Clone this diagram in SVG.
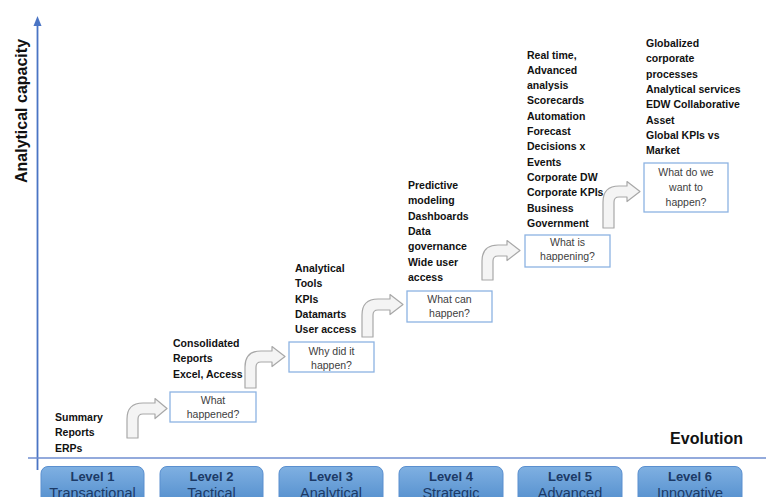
<svg xmlns="http://www.w3.org/2000/svg" width="766" height="497" viewBox="0 0 766 497">
<defs>
<linearGradient id="lvl" x1="0" y1="0" x2="0" y2="1">
<stop offset="0" stop-color="#7fb0e2"/>
<stop offset="1" stop-color="#4f8bcb"/>
</linearGradient>
<style>
.axis{stroke:#4a74c4;stroke-width:1.8;fill:none}
.note{font-family:"Liberation Sans",Arial,sans-serif;font-weight:bold;font-size:10.5px;fill:#111}
.q rect{fill:#fff;stroke:#8db3e2;stroke-width:1.3}
.q text{font-family:"Liberation Sans",Arial,sans-serif;font-size:10.5px;fill:#404040;text-anchor:middle}
.bend{fill:#f4f4f4;stroke:#a8a8a8;stroke-width:1.2;stroke-linejoin:round}
.lv rect{fill:url(#lvl);stroke:#5a8fcf;stroke-width:1}
.lv text{font-family:"Liberation Sans",Arial,sans-serif;fill:#1c3a66;text-anchor:middle}
.lv .t{font-weight:bold;font-size:13px}
.lv .s{font-size:14.5px}
.lbl{font-family:"Liberation Sans",Arial,sans-serif;font-weight:bold;font-size:16px;fill:#111}
</style>
</defs>
<rect width="766" height="497" fill="#fff"/>

<g id="axes">
<line class="axis" x1="37.5" y1="24" x2="37.5" y2="470"/>
<polygon points="37.5,16 33.5,26 41.5,26" fill="#4a74c4"/>
<line class="axis" x1="28" y1="458" x2="766" y2="458" style="stroke:#6f8ed0;stroke-width:1.5"/>
<text class="lbl" text-anchor="middle" transform="translate(26.5,111) rotate(-90)">Analytical capacity</text>
<text class="lbl" x="743" y="444" text-anchor="end">Evolution</text>
</g>

<g id="connectors">
<path class="bend" d="M127,438 L127,419 Q127,403 143,403 L155,403 L155,398.5 L167,408.5 L155,418.5 L155,414 L143,414 Q138,414 138,419 L138,438 Z"/>
<path class="bend" d="M245,388 L245,367 Q245,351 261,351 L272,351 L272,346.5 L285,356.5 L272,366.5 L272,362 L261,362 Q256,362 256,367 L256,388 Z"/>
<path class="bend" d="M362,337 L362,315 Q362,299 378,299 L390,299 L390,294.5 L403,304.5 L390,314.5 L390,310 L378,310 Q373,310 373,315 L373,337 Z"/>
<path class="bend" d="M482,280 L482,261 Q482,245 498,245 L507,245 L507,240.5 L520,250.5 L507,260.5 L507,256 L498,256 Q493,256 493,261 L493,280 Z"/>
<path class="bend" d="M603,228 L603,202 Q603,186 619,186 L627,186 L627,181.5 L640,191.5 L627,201.5 L627,197 L619,197 Q614,197 614,202 L614,228 Z"/>
</g>

<g id="notes1"><text class="note" x="55" y="421"><tspan x="55">Summary</tspan><tspan x="55" dy="15.3">Reports</tspan><tspan x="55" dy="15.3">ERPs</tspan></text></g>
<g id="notes2"><text class="note" x="173" y="347"><tspan x="173">Consolidated</tspan><tspan x="173" dy="15.3">Reports</tspan><tspan x="173" dy="15.3">Excel, Access</tspan></text></g>
<g id="notes3"><text class="note" x="295" y="272"><tspan x="295">Analytical</tspan><tspan x="295" dy="15.3">Tools</tspan><tspan x="295" dy="15.3">KPIs</tspan><tspan x="295" dy="15.3">Datamarts</tspan><tspan x="295" dy="15.3">User access</tspan></text></g>
<g id="notes4"><text class="note" x="408" y="189"><tspan x="408">Predictive</tspan><tspan x="408" dy="15.3">modeling</tspan><tspan x="408" dy="15.3">Dashboards</tspan><tspan x="408" dy="15.3">Data</tspan><tspan x="408" dy="15.3">governance</tspan><tspan x="408" dy="15.3">Wide user</tspan><tspan x="408" dy="15.3">access</tspan></text></g>
<g id="notes5"><text class="note" x="527" y="58.5"><tspan x="527">Real time,</tspan><tspan x="527" dy="15.3">Advanced</tspan><tspan x="527" dy="15.3">analysis</tspan><tspan x="527" dy="15.3">Scorecards</tspan><tspan x="527" dy="15.3">Automation</tspan><tspan x="527" dy="15.3">Forecast</tspan><tspan x="527" dy="15.3">Decisions x</tspan><tspan x="527" dy="15.3">Events</tspan><tspan x="527" dy="15.3">Corporate DW</tspan><tspan x="527" dy="15.3">Corporate KPIs</tspan><tspan x="527" dy="15.3">Business</tspan><tspan x="527" dy="15.3">Government</tspan></text></g>
<g id="notes6"><text class="note" x="646" y="47"><tspan x="646">Globalized</tspan><tspan x="646" dy="15.3">corporate</tspan><tspan x="646" dy="15.3">processes</tspan><tspan x="646" dy="15.3">Analytical services</tspan><tspan x="646" dy="15.3">EDW Collaborative</tspan><tspan x="646" dy="15.3">Asset</tspan><tspan x="646" dy="15.3">Global KPIs vs</tspan><tspan x="646" dy="15.3">Market</tspan></text></g>

<g id="q1" class="q"><rect x="170" y="392" width="86" height="30"/><text x="213" y="404">What</text><text x="213" y="418">happened?</text></g>
<g id="q2" class="q"><rect x="289" y="342" width="85" height="30"/><text x="331.5" y="355">Why did it</text><text x="331.5" y="368.5">happen?</text></g>
<g id="q3" class="q"><rect x="407" y="291" width="85" height="31"/><text x="449.5" y="303">What can</text><text x="449.5" y="317">happen?</text></g>
<g id="q4" class="q"><rect x="525" y="235" width="85" height="32"/><text x="567.5" y="246">What is</text><text x="567.5" y="260">happening?</text></g>
<g id="q5" class="q"><rect x="644" y="163" width="84" height="49"/><text x="686" y="176">What do we</text><text x="686" y="191">want to</text><text x="686" y="206">happen?</text></g>

<g id="level1" class="lv"><rect x="41" y="466.5" width="103" height="40" rx="7"/><text class="t" x="92.5" y="480.5">Level 1</text><text class="s" x="92.5" y="498">Transactional</text></g>
<g id="level2" class="lv"><rect x="160" y="466.5" width="103" height="40" rx="7"/><text class="t" x="211.5" y="480.5">Level 2</text><text class="s" x="211.5" y="498">Tactical</text></g>
<g id="level3" class="lv"><rect x="279" y="466.5" width="104" height="40" rx="7"/><text class="t" x="331" y="480.5">Level 3</text><text class="s" x="331" y="498">Analytical</text></g>
<g id="level4" class="lv"><rect x="399" y="466.5" width="104" height="40" rx="7"/><text class="t" x="451" y="480.5">Level 4</text><text class="s" x="451" y="498">Strategic</text></g>
<g id="level5" class="lv"><rect x="518" y="466.5" width="104" height="40" rx="7"/><text class="t" x="570" y="480.5">Level 5</text><text class="s" x="570" y="498">Advanced</text></g>
<g id="level6" class="lv"><rect x="638" y="466.5" width="104" height="40" rx="7"/><text class="t" x="690" y="480.5">Level 6</text><text class="s" x="690" y="498">Innovative</text></g>
</svg>
